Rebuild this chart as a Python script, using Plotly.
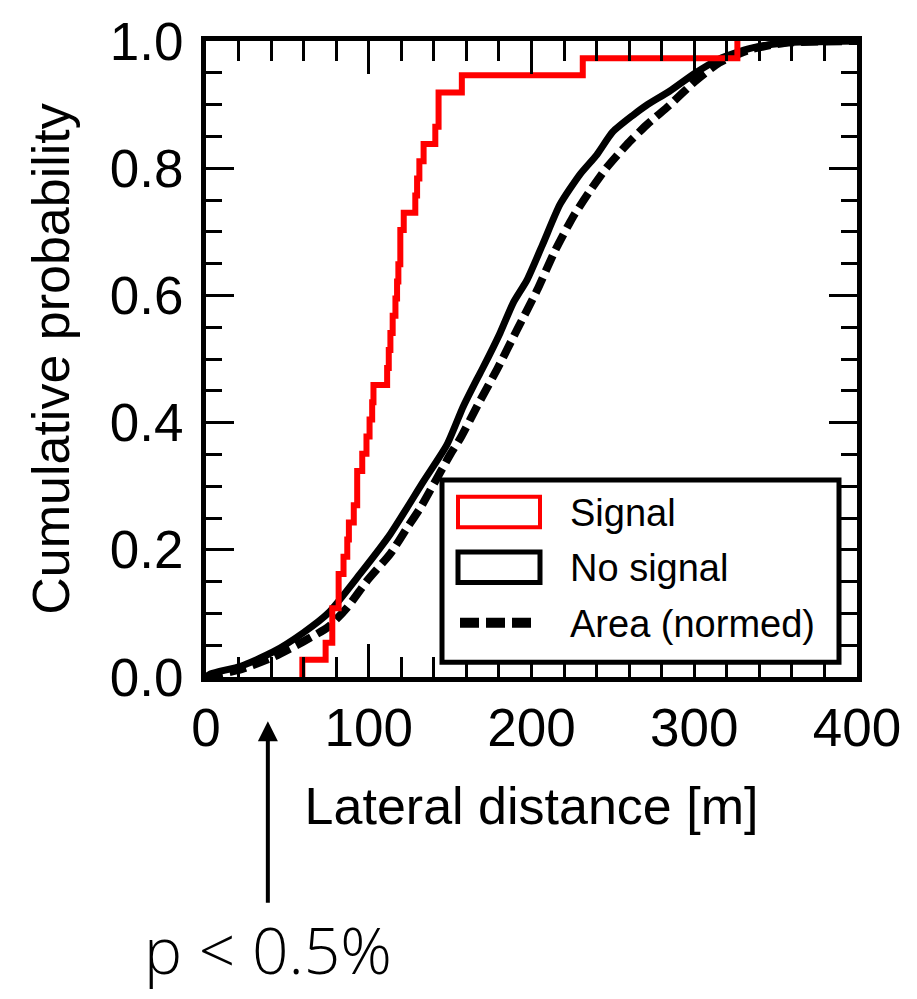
import plotly.graph_objects as go

# ---------------- data ----------------
# Signal: empirical CDF (step positions in m and level after each step)
signal_x = [59.2, 59.2, 73.5, 77.6, 81.5, 84.5, 86.8, 87.8, 90.8, 92.9, 96.0,
            98.6, 100.5, 102.1, 102.9, 111.3, 112.3, 113.3, 114.7, 116.4, 117.4,
            118.2, 119.4, 121.5, 128.6, 129.7, 131.1, 133.7, 140.9, 142.9, 157.2,
            231.5, 326.5]
signal_y = [0.0, 0.027, 0.054, 0.108, 0.162, 0.189, 0.216, 0.243, 0.270, 0.324,
            0.351, 0.378, 0.405, 0.432, 0.459, 0.486, 0.514, 0.541, 0.568, 0.595,
            0.622, 0.649, 0.703, 0.730, 0.757, 0.784, 0.811, 0.838, 0.865, 0.919,
            0.946, 0.973, 1.0]

# No signal: empirical CDF (many events, read as a curve)
nosig_x = [0.0, 3.1, 21.4, 40.9, 60.0, 75.3, 94.9, 113.3, 133.7, 148.0, 158.0,
           166.4, 170.3, 180.7, 188.7, 197.2, 207.0, 217.5, 229.7, 240.1, 249.9,
           262.2, 270.7, 284.8, 300.2, 315.5, 333.8, 355.3, 400.0]
nosig_y = [0.0, 0.005, 0.017, 0.039, 0.070, 0.101, 0.163, 0.225, 0.308, 0.365,
           0.425, 0.468, 0.487, 0.541, 0.588, 0.624, 0.681, 0.743, 0.790, 0.821,
           0.857, 0.883, 0.899, 0.921, 0.949, 0.972, 0.988, 0.997, 1.0]

# Area (normed)
area_x = [0.0, 3.1, 21.4, 41.0, 60.0, 75.3, 87.0, 99.2, 113.3, 123.7, 131.7,
          150.1, 156.2, 168.5, 178.9, 191.1, 203.4, 214.4, 225.4, 235.8, 246.2,
          258.5, 270.7, 284.8, 300.2, 315.5, 333.8, 355.3, 400.0]
area_y = [0.0, 0.002, 0.012, 0.031, 0.056, 0.079, 0.110, 0.152, 0.194, 0.235,
          0.266, 0.350, 0.375, 0.435, 0.484, 0.546, 0.608, 0.670, 0.723, 0.764,
          0.801, 0.837, 0.868, 0.899, 0.936, 0.966, 0.986, 0.997, 1.0]

legend_labels = ["Signal", "No signal", "Area (normed)"]
x_ticks = [0, 100, 200, 300, 400]
y_ticks = [0.0, 0.2, 0.4, 0.6, 0.8, 1.0]
y_ticklabels = ["0.0", "0.2", "0.4", "0.6", "0.8", "1.0"]
annotation_text = "p < 0.5%"
arrow_x = 38.0   # m

# ---------------- layout geometry ----------------
W, H = 917, 999
L, R, T, B = 206, 60, 31, 322
PW, PH = W - L - R, H - T - B


def px(xp):
    return (xp - L) / PW


def py(yp):
    return (H - B - yp) / PH


FONT = "Liberation Sans, Arial, Helvetica, sans-serif"

fig = go.Figure()
fig.add_trace(go.Scatter(x=area_x, y=area_y, mode="lines",
                         line=dict(color="black", width=8, dash="17px,7px",
                                   shape="spline", smoothing=0.6),
                         name=legend_labels[2], showlegend=False))
fig.add_trace(go.Scatter(x=nosig_x, y=nosig_y, mode="lines",
                         line=dict(color="black", width=7, shape="spline",
                                   smoothing=0.6),
                         name=legend_labels[1], showlegend=False))
fig.add_trace(go.Scatter(x=signal_x, y=signal_y, mode="lines",
                         line=dict(color="#ff0000", width=6, shape="hv"),
                         name=legend_labels[0], showlegend=False))

axis_common = dict(showline=True, linewidth=5, linecolor="black", mirror="allticks",
                   ticks="inside", tickcolor="black", showgrid=False, zeroline=False,
                   tickfont=dict(family=FONT, size=53, color="black"))

fig.update_xaxes(range=[0, 400], tickvals=x_ticks, ticklen=33, tickwidth=3,
                 ticklabelstandoff=0,
                 minor=dict(dtick=20, ticks="inside", ticklen=20, tickwidth=3,
                            tickcolor="black", showgrid=False),
                 title=dict(text="Lateral distance [m]",
                            font=dict(family=FONT, size=52, color="black"),
                            standoff=34),
                 **axis_common)
fig.update_yaxes(range=[0, 1], tickvals=y_ticks, ticktext=y_ticklabels,
                 ticklen=28, tickwidth=3, ticklabelstandoff=7,
                 minor=dict(dtick=0.05, ticks="inside", ticklen=16, tickwidth=3,
                            tickcolor="black", showgrid=False),
                 title=dict(text="Cumulative probability",
                            font=dict(family=FONT, size=52, color="black"),
                            standoff=25),
                 **axis_common)

# ---------------- custom legend ----------------
shapes = [
    dict(type="rect", xref="paper", yref="paper", layer="above",
         x0=px(442), x1=px(839), y0=py(662), y1=py(477),
         line=dict(color="black", width=5), fillcolor="white"),
    dict(type="rect", xref="paper", yref="paper", layer="above",
         x0=px(458), x1=px(540), y0=py(525), y1=py(494),
         line=dict(color="#ff0000", width=4), fillcolor="white"),
    dict(type="rect", xref="paper", yref="paper", layer="above",
         x0=px(458), x1=px(540), y0=py(581), y1=py(550),
         line=dict(color="black", width=5), fillcolor="white"),
    dict(type="line", xref="paper", yref="paper", layer="above",
         x0=px(460), x1=px(532), y0=py(622), y1=py(622),
         line=dict(color="black", width=10, dash="19px,7px")),
]
annotations = []
for lab, yc in zip(legend_labels, [510, 566, 623]):
    annotations.append(dict(x=px(568), y=py(yc), xref="paper", yref="paper",
                            text=lab, showarrow=False, xanchor="left",
                            yanchor="middle",
                            font=dict(family=FONT, size=38, color="black")))

# arrow + p-value text
annotations.append(dict(x=arrow_x, y=py(722), xref="x", yref="paper", text="",
                        showarrow=True, ax=0, ay=183, axref="pixel", ayref="pixel",
                        arrowhead=2, arrowsize=1.0, arrowwidth=4,
                        arrowcolor="black"))
annotations.append(dict(x=arrow_x, y=py(954), xref="x", yref="paper",
                        text=annotation_text, showarrow=False,
                        xanchor="center", yanchor="middle",
                        font=dict(family="Open Sans, Lato, sans-serif", size=64,
                                  weight=300, color="black")))

fig.update_layout(width=W, height=H, margin=dict(l=L, r=R, t=T, b=B),
                  paper_bgcolor="white", plot_bgcolor="white",
                  showlegend=False, shapes=shapes, annotations=annotations)

fig.write_html("out.html")
